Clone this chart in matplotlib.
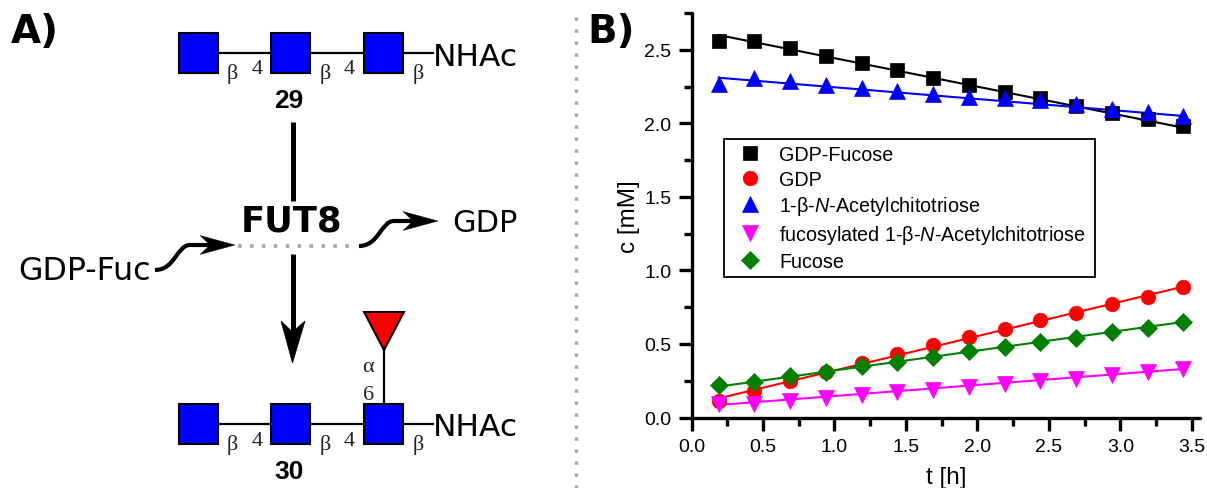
import matplotlib
matplotlib.use('Agg')
import matplotlib.pyplot as plt
from matplotlib.patches import PathPatch, Polygon, Rectangle
from matplotlib.path import Path

W, H = 1207, 489

# data
t = [0.19, 0.44, 0.69, 0.94, 1.19, 1.44, 1.69, 1.94, 2.19, 2.44, 2.69, 2.94, 3.19, 3.44]
gdp_fucose = [2.56, 2.56, 2.51, 2.46, 2.41, 2.36, 2.31, 2.26, 2.21, 2.17, 2.12, 2.07, 2.03, 1.98]
gdp = [0.11, 0.18, 0.25, 0.31, 0.37, 0.43, 0.49, 0.55, 0.60, 0.66, 0.71, 0.77, 0.82, 0.89]
triose = [2.27, 2.31, 2.29, 2.26, 2.24, 2.22, 2.20, 2.18, 2.17, 2.16, 2.13, 2.10, 2.08, 2.05]
fuc_triose = [0.09, 0.09, 0.11, 0.13, 0.15, 0.17, 0.19, 0.21, 0.23, 0.25, 0.26, 0.29, 0.31, 0.33]
fucose = [0.22, 0.24, 0.28, 0.31, 0.35, 0.38, 0.41, 0.45, 0.48, 0.51, 0.54, 0.58, 0.61, 0.65]

# fit lines, start and end values
fit_t = [0.19, 3.44]
fit_gdp_fucose = [2.60, 1.97]
fit_gdp = [0.13, 0.89]
fit_triose = [2.31, 2.05]
fit_fuc_triose = [0.085, 0.33]
fit_fucose = [0.21, 0.65]

x_ticks = [0.0, 0.5, 1.0, 1.5, 2.0, 2.5, 3.0, 3.5]
y_ticks = [0.0, 0.5, 1.0, 1.5, 2.0, 2.5]

SANS = 'Liberation Sans'
BLUE = '#0000ff'
GREEN = '#008000'
MAGENTA = '#ff00ff'

plt.rcParams['mathtext.fontset'] = 'custom'
plt.rcParams['mathtext.it'] = SANS + ':italic'
plt.rcParams['mathtext.rm'] = SANS

fig = plt.figure(figsize=(W / 100, H / 100), dpi=100)

# panel B
AX_L, AX_R, AX_T, AX_B = 691.5, 1200, 14, 418.5
ax = fig.add_axes([AX_L / W, 1 - AX_B / H, (AX_R - AX_L) / W, (AX_B - AX_T) / H])
series = [
    (gdp_fucose, fit_gdp_fucose, 'k', 's', 9.5, 'GDP-Fucose'),
    (gdp, fit_gdp, 'r', 'o', 10.5, 'GDP'),
    (triose, fit_triose, BLUE, '^', 11.5, r'1-β-$\mathit{N}$-Acetylchitotriose'),
    (fuc_triose, fit_fuc_triose, MAGENTA, 'v', 11.5, r'fucosylated 1-β-$\mathit{N}$-Acetylchitotriose'),
    (fucose, fit_fucose, GREEN, 'D', 9, 'Fucose'),
]
for vals, fit, col, mk, ms, name in series:
    ax.plot(fit_t, fit, color=col, lw=1.5, zorder=2)
    ax.plot(t, vals, ls='none', marker=mk, ms=ms, color=col, mec=col, mew=0.5, label=name, zorder=3)

ax.set_xlim(0, 3.556)
ax.set_ylim(0, 2.747)
ax.set_xticks(x_ticks)
ax.set_yticks(y_ticks)
ax.set_xticks([0.25, 0.75, 1.25, 1.75, 2.25, 2.75, 3.25], minor=True)
ax.set_yticks([0.25, 0.75, 1.25, 1.75, 2.25, 2.75], minor=True)
ax.tick_params(which='major', length=9.5, width=2.4, labelsize=14, pad=5)
ax.tick_params(which='minor', length=5.5, width=2.4)
ax.xaxis.set_major_formatter('{x:.1f}')
ax.yaxis.set_major_formatter('{x:.1f}')
for lab in ax.get_xticklabels() + ax.get_yticklabels():
    lab.set_family(SANS)
ax.spines['top'].set_visible(False)
ax.spines['right'].set_visible(False)
for side in ('left', 'bottom'):
    ax.spines[side].set_linewidth(2.4)
    ax.spines[side].set_capstyle('round')
ax.set_xlabel('t [h]', family=SANS, fontsize=17.5, labelpad=8)
ax.set_ylabel('c [mM]', family=SANS, fontsize=17.5, labelpad=3)

leg_x = (724 - AX_L) / (AX_R - AX_L)
leg_y = 1 - (140 - AX_T) / (AX_B - AX_T)
leg = ax.legend(loc='upper left', bbox_to_anchor=(leg_x, leg_y, (1095 - 724) / (AX_R - AX_L), 0),
                mode='expand', frameon=True, fancybox=False, edgecolor='k', framealpha=1,
                prop={'family': SANS, 'size': 14.2}, borderaxespad=0, labelspacing=0.29,
                handletextpad=0.46, borderpad=0.3, handlelength=2.03, numpoints=1)
leg.get_frame().set_linewidth(1.3)

# panel A and separators, drawn in picture pixels
ov = fig.add_axes([0, 0, 1, 1], zorder=-1)
ov.set_xlim(0, W)
ov.set_ylim(H, 0)
ov.axis('off')

ov.text(11, 32, 'A)', fontsize=28, fontweight='bold', family='DejaVu Sans', va='center', ha='left')
ov.text(587, 32, 'B)', fontsize=28, fontweight='bold', family='DejaVu Sans', va='center', ha='left')
ov.plot([576, 576], [18, 489], color='#a6a6a6', lw=2.4, ls=(0, (1, 2.6)))


def chain(yc, label, label_dy):
    ov.plot([198, 433], [yc, yc], color='k', lw=1.6, zorder=1)
    for x0 in (179, 271, 364):
        ov.add_patch(Rectangle((x0, yc - 20), 39, 40, fc=BLUE, ec='k', lw=1.5, zorder=2))
    for bx in (232, 325, 418):
        ov.text(bx, yc + 20, 'β', family='Liberation Serif', fontsize=16, ha='center', va='center', color='#222222')
    for fx in (257, 349):
        ov.text(fx, yc + 16, '4', family='Liberation Serif', fontsize=16, ha='center', va='center', color='#222222')
    ov.text(433, yc + 3, 'NHAc', family='DejaVu Sans', fontsize=22.5, ha='left', va='center')
    ov.text(289, yc + label_dy, label, family=SANS, fontweight='bold', fontsize=19, ha='center', va='center')


chain(54, '29', 47)
chain(425, '30', 47)

# fucose on the lower chain
ov.plot([384, 384], [350, 406], color='k', lw=1.6, zorder=1)
ov.add_patch(Polygon([(364, 313), (404, 313), (384, 351)], fc='r', ec='k', lw=1.5, zorder=2))
ov.text(368, 367, 'α', family='Liberation Serif', fontsize=16, ha='center', va='center', color='#222222')
ov.text(369, 396, '6', family='Liberation Serif', fontsize=16, ha='center', va='center', color='#222222')

# reaction
ov.plot([292.5, 292.5], [123, 202], color='k', lw=3.6, solid_capstyle='butt')
ov.plot([292.5, 292.5], [255, 335], color='k', lw=3.6, solid_capstyle='butt')
ov.add_patch(Polygon([(292.5, 364), (281, 322), (292.5, 333), (305, 322)], fc='k', ec='k', lw=0.5))
ov.text(292, 221, 'FUT8', family='DejaVu Sans', fontweight='bold', fontsize=25.5, ha='center', va='center')
ov.plot([238, 350], [246.7, 246.7], color='#a6a6a6', lw=2.6, ls=(0, (1, 2.3)))
ov.text(18, 272, 'GDP-Fuc', family='DejaVu Sans', fontsize=22.8, ha='left', va='center')
ov.text(452, 223, 'GDP', family='DejaVu Sans', fontsize=22, ha='left', va='center')


def wavy(x0, y0, x1, y1):
    mx = x0 + 35
    p = Path([(x0, y0), (x0 + 20, y0), (x0 + 22, y1), (mx, y1), (x1 - 20, y1)],
             [Path.MOVETO, Path.CURVE4, Path.CURVE4, Path.CURVE4, Path.LINETO])
    ov.add_patch(PathPatch(p, fc='none', ec='k', lw=3, capstyle='butt'))
    ov.add_patch(Polygon([(x1, y1), (x1 - 35, y1 - 9.5), (x1 - 25, y1), (x1 - 35, y1 + 9.5)], fc='k', ec='k', lw=0.3))


wavy(155, 271, 235, 246)
wavy(359, 247, 438, 222)

fig.savefig('out.png', dpi=100)
